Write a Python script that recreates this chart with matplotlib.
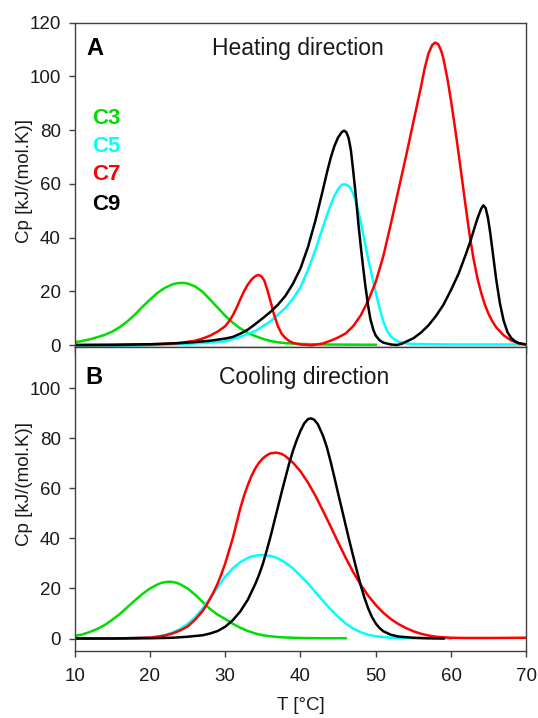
import numpy as np
import matplotlib
matplotlib.use("Agg")
from matplotlib import pyplot as plt

plt.rcParams['font.family'] = ['Liberation Sans', 'DejaVu Sans']

# ---- heating (panel A) ----
t_c3_h = [10, 11, 12, 13, 14, 15, 16, 17, 18, 19, 20, 21, 22, 23, 23.5, 24, 24.5, 25, 26, 27, 28,
          29, 30, 31, 32, 33, 34, 35, 36, 37, 38, 40, 42, 45, 50]
cp_c3_h = [1.0, 1.5, 2.1, 2.9, 3.8, 5.0, 6.7, 8.8, 11.3, 14.2, 16.9, 19.4, 21.3, 22.6, 22.95,
           23.1, 23.1, 22.9, 21.8, 19.8, 16.9, 13.9, 10.9, 8.3, 6.2, 4.5, 3.3, 2.3, 1.5, 1.0, 0.7,
           0.4, 0.25, 0.15, 0.1]

t_c5_h = [10, 15, 20, 25, 28, 30, 32, 33, 34, 35, 36, 37, 38, 39, 40, 41, 42, 43, 43.5, 44, 44.5,
          45, 45.5, 46, 46.5, 47, 47.5, 48, 48.5, 49, 49.5, 50, 50.5, 51, 51.5, 52, 52.5, 53, 54,
          55, 57, 60, 70]
cp_c5_h = [-0.3, -0.3, 0.0, 0.4, 0.9, 1.4, 3.0, 4.2, 5.2, 7.0, 8.8, 11.3, 13.8, 17.2, 21.5, 28.0,
           35.5, 44.0, 48.2, 52.0, 55.5, 58.0, 59.7, 59.8, 59.0, 56.5, 52.0, 46.0, 39.0, 32.0,
           25.7, 19.5, 13.8, 8.8, 5.3, 3.2, 2.0, 1.3, 0.6, 0.4, 0.3, 0.2, 0.2]

t_c7_h = [10, 15, 20, 22, 24, 26, 27, 28, 29, 30, 30.5, 31, 31.5, 32, 32.5, 33, 33.5, 34, 34.4,
          34.8, 35.2, 35.6, 36, 36.5, 37, 37.5, 38, 38.5, 39, 40, 41.5, 43, 44, 45, 46, 47, 48, 49,
          50, 51, 52, 53, 54, 55, 56, 56.5, 57, 57.5, 57.9, 58.3, 58.7, 59, 59.5, 60, 60.5, 61,
          61.5, 62, 62.5, 63, 63.5, 64, 64.5, 65, 65.5, 66, 67, 68, 69, 70]
cp_c7_h = [0.0, 0.0, 0.2, 0.4, 0.8, 1.6, 2.4, 3.5, 5.0, 7.0, 8.8, 11.0, 13.8, 17.0, 20.0, 22.5,
           24.4, 25.6, 26.1, 25.6, 24.0, 20.5, 16.5, 11.2, 7.0, 4.2, 2.6, 1.5, 0.8, 0.2, -0.1, 0.6,
           1.6, 2.8, 4.3, 7.0, 11.0, 16.5, 23.5, 33.0, 45.0, 57.5, 70.0, 83.0, 96.0, 103.0, 108.5,
           111.7, 112.6, 112.0, 109.5, 106.5, 99.5, 91.0, 81.5, 71.5, 61.0, 50.5, 40.5, 32.0,
           25.0, 19.5, 15.0, 11.5, 8.8, 6.6, 3.6, 1.7, 0.6, 0.2]

t_c9_h = [10, 15, 20, 24, 26, 28, 30, 31, 32, 33, 34, 35, 36, 37, 38, 39, 40, 41, 42, 43, 43.5,
          44, 44.5, 45, 45.5, 45.8, 46.1, 46.4, 46.7, 47, 47.3, 47.7, 48, 48.3, 48.6, 49, 49.3,
          49.7, 50, 50.5, 51, 52, 52.8, 53.5, 54, 55, 56, 57, 58, 59, 60, 61, 62, 62.5, 63, 63.5,
          64, 64.3, 64.6, 64.9, 65.2, 65.5, 66, 66.5, 67, 67.5, 68, 68.5, 69, 70]
cp_c9_h = [0.0, 0.1, 0.3, 0.7, 1.1, 1.6, 2.4, 3.0, 4.2, 5.7, 7.8, 10.0, 12.3, 15.0, 18.3, 22.8,
           28.5, 36.5, 46.5, 58.0, 64.0, 69.5, 74.0, 77.3, 79.3, 79.8, 79.2, 77.0, 72.5, 65.0,
           57.0, 45.0, 37.0, 29.5, 22.5, 14.4, 9.5, 5.5, 3.5, 1.8, 0.9, 0.2, 0.0, 0.5, 1.2, 2.5,
           4.6, 7.3, 10.8, 15.0, 20.5, 26.5, 34.0, 38.0, 42.5, 47.0, 50.7, 52.0, 51.0, 47.5, 42.0,
           35.5, 24.5, 15.5, 9.0, 4.8, 2.6, 1.4, 0.7, 0.2]

# ---- cooling (panel B) ----
t_c3_c = [10, 11, 12, 13, 14, 15, 16, 17, 18, 19, 20, 21, 21.5, 22, 22.5, 23, 23.5, 24, 25, 26,
          27, 28, 29, 30, 31, 32, 33, 34, 35, 36, 37, 38, 40, 43, 46]
cp_c3_c = [1.0, 1.6, 2.6, 3.8, 5.4, 7.5, 9.8, 12.5, 15.2, 17.8, 20.0, 21.6, 22.2, 22.5, 22.7,
           22.6, 22.3, 21.7, 20.0, 17.5, 14.6, 11.8, 9.5, 7.8, 5.9, 4.3, 3.0, 2.0, 1.3, 0.9, 0.6,
           0.4, 0.2, 0.1, 0.1]

t_c5_c = [10, 15, 18, 20, 21, 22, 23, 24, 25, 26, 27, 28, 29, 30, 31, 32, 33, 33.5, 34, 34.5, 35,
          35.5, 36, 36.5, 37, 38, 39, 40, 41, 42, 43, 44, 45, 46, 47, 48, 49, 50, 52, 55, 60]
cp_c5_c = [0.0, 0.0, 0.2, 0.4, 0.7, 1.4, 2.4, 3.8, 5.8, 8.5, 12.0, 16.0, 20.5, 24.7, 28.0, 30.5,
           32.2, 32.8, 33.1, 33.3, 33.3, 33.2, 33.0, 32.6, 32.0, 30.3, 28.0, 25.0, 22.0, 18.5,
           15.0, 11.7, 8.7, 6.0, 4.0, 2.5, 1.5, 0.9, 0.3, 0.1, 0.0]

t_c7_c = [10, 15, 18, 20, 21, 22, 23, 24, 25, 26, 27, 27.5, 28, 28.5, 29, 29.5, 30, 30.5, 31, 31.5,
          32, 32.5, 33, 33.5, 34, 34.5, 35, 35.5, 36, 36.8, 37.5, 38, 39, 40, 41, 42, 43, 44, 45,
          46, 47, 48, 49, 50, 51, 52, 53, 54, 55, 56, 57, 58, 60, 62, 65, 70]
cp_c7_c = [0.0, 0.0, 0.2, 0.4, 0.7, 1.2, 2.0, 3.2, 4.8, 7.5, 11.0, 13.3, 16.0, 18.8, 22.0, 25.8,
           30.0, 35.0, 40.0, 46.0, 52.0, 57.0, 61.3, 65.0, 68.0, 70.3, 72.0, 73.2, 74.0, 74.3,
           73.8, 72.9, 70.3, 66.8, 62.3, 57.0, 51.0, 44.8, 38.5, 32.3, 26.6, 21.5, 17.1, 13.4,
           10.3, 7.8, 5.8, 4.2, 2.9, 1.9, 1.2, 0.7, 0.3, 0.2, 0.2, 0.3]

t_c9_c = [10, 15, 20, 23, 25, 27, 28, 29, 30, 31, 32, 33, 34, 34.5, 35, 35.5, 36, 36.5, 37, 37.5,
          38, 38.5, 39, 39.5, 40, 40.5, 41, 41.4, 41.8, 42.3, 43, 43.5, 44, 44.5, 45, 45.5, 46,
          46.5, 47, 47.5, 48, 48.5, 49, 49.5, 50, 50.5, 51, 52, 53, 55, 57, 59]
cp_c9_c = [0.0, 0.0, 0.1, 0.3, 0.7, 1.3, 2.0, 3.0, 4.7, 7.3, 10.8, 15.5, 21.8, 25.5, 29.8, 35.0,
           40.5, 46.5, 52.5, 58.5, 64.3, 70.0, 75.0, 79.3, 83.0, 86.0, 87.7, 88.0, 87.5, 85.7,
           81.0, 76.5, 70.8, 64.5, 58.0, 51.7, 45.3, 39.0, 33.0, 27.0, 21.3, 16.3, 12.0, 8.6, 6.0,
           4.2, 2.9, 1.5, 0.8, 0.3, 0.1, 0.0]

labels = ['C3', 'C5', 'C7', 'C9']
colors = ['#00dd00', '#00ffff', '#ff0000', '#000000']
heating = [(t_c3_h, cp_c3_h), (t_c5_h, cp_c5_h), (t_c7_h, cp_c7_h), (t_c9_h, cp_c9_h)]
cooling = [(t_c3_c, cp_c3_c), (t_c5_c, cp_c5_c), (t_c7_c, cp_c7_c), (t_c9_c, cp_c9_c)]

fig = plt.figure(figsize=(5.38, 7.18), dpi=100)
ax1 = fig.add_axes([0.1388, 0.5163, 0.8394, 0.4521])
ax2 = fig.add_axes([0.1388, 0.0933, 0.8394, 0.4230])

for (t, cp), c in zip(heating, colors):
    ax1.plot(t, cp, color=c, lw=1.8, solid_joinstyle='round')
for (t, cp), c in zip(cooling, colors):
    ax2.plot(t, cp, color=c, lw=1.8, solid_joinstyle='round')

spine_col = '#404040'
for ax in (ax1, ax2):
    ax.set_xlim(10, 70)
    ax.set_xticks(range(10, 71, 10))
    for s in ax.spines.values():
        s.set_color(spine_col)
        s.set_linewidth(1.0)
    ax.tick_params(direction='out', length=4, width=1, color=spine_col,
                   labelsize=13.5, labelcolor='#1a1a1a', pad=6)

ax1.set_ylim(-0.85, 120)
ax1.set_yticks(range(0, 121, 20))
ax1.tick_params(axis='x', labelbottom=False)
ax2.set_ylim(-5, 116.4)
ax2.set_yticks(range(0, 101, 20))
ax2.tick_params(axis='x', pad=8)

ax1.set_ylabel('Cp [kJ/(mol.K)]', fontsize=13.5, color='#1a1a1a')
ax1.yaxis.set_label_coords(-0.092, 0.512)
ax2.set_ylabel('Cp [kJ/(mol.K)]', fontsize=13.5, color='#1a1a1a')
ax2.yaxis.set_label_coords(-0.092, 0.55)
ax2.set_xlabel('T [°C]', fontsize=13.5, color='#1a1a1a', labelpad=9)

ax1.text(0.027, 0.922, 'A', transform=ax1.transAxes, fontsize=17, fontweight='bold',
         ha='left', va='center')
ax1.text(0.494, 0.922, 'Heating direction', transform=ax1.transAxes, fontsize=16.5,
         ha='center', va='center', color='#1a1a1a')
ax2.text(0.024, 0.899, 'B', transform=ax2.transAxes, fontsize=17, fontweight='bold',
         ha='left', va='center')
ax2.text(0.508, 0.899, 'Cooling direction', transform=ax2.transAxes, fontsize=16.5,
         ha='center', va='center', color='#1a1a1a')

for lab, c, yy in zip(labels, colors, [0.704, 0.618, 0.531, 0.441]):
    ax1.text(0.039, yy, lab, transform=ax1.transAxes, fontsize=16, fontweight='bold',
             color=c, ha='left', va='center')

plt.savefig('out.png', dpi=100)
